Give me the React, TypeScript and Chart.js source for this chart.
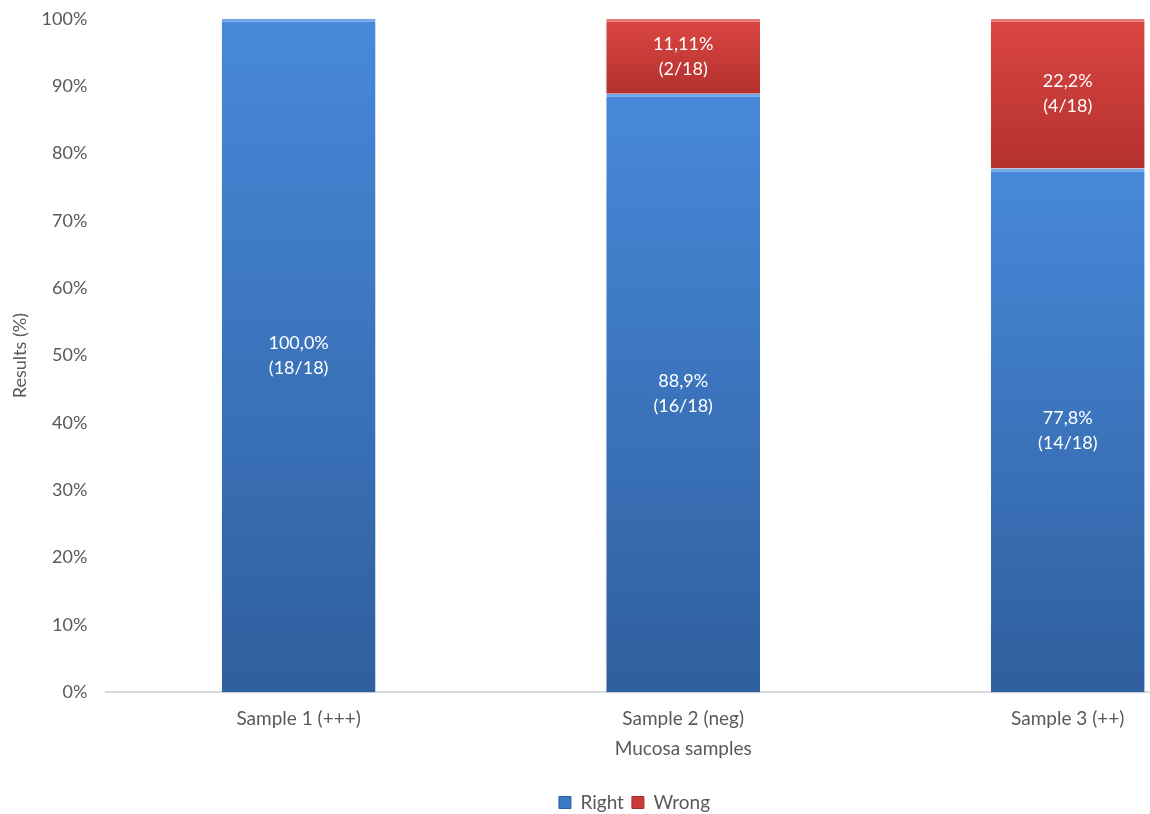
import React, { useEffect, useRef } from "react";
import { Chart, registerables } from "chart.js";

Chart.register(...registerables);

const categories = ["Sample 1 (+++)", "Sample 2 (neg)", "Sample 3 (++)"];
const rightValues = [100, 88.89, 77.78];
const wrongValues = [0, 11.11, 22.22];
const rightLabels = ["100,0%", "88,9%", "77,8%"];
const rightCounts = ["(18/18)", "(16/18)", "(14/18)"];
const wrongLabels = ["", "11,11%", "22,2%"];
const wrongCounts = ["", "(2/18)", "(4/18)"];
const yTicks = [0, 10, 20, 30, 40, 50, 60, 70, 80, 90, 100];

const FONT = "Lato, 'Open Sans', sans-serif";
const TEXT = "#595959";

function segGradient(ctx: any, top: string, bottom: string, below: number[][]) {
  const chart = ctx.chart;
  const y = chart.scales && chart.scales.y;
  if (ctx.dataIndex === undefined || !y || !chart.chartArea) return top;
  const i = ctx.dataIndex;
  const ds = ctx.datasetIndex;
  let start = 0;
  for (let k = 0; k < ds; k++) start += below[k][i];
  const end = start + (ds === 0 ? rightValues[i] : wrongValues[i]);
  const yTop = y.getPixelForValue(end);
  const yBot = y.getPixelForValue(start);
  if (!isFinite(yTop) || !isFinite(yBot) || yTop === yBot) return top;
  const g = chart.ctx.createLinearGradient(0, yTop, 0, yBot);
  g.addColorStop(0, top);
  g.addColorStop(1, bottom);
  return g;
}

const labelPlugin = {
  id: "segLabels",
  afterDatasetsDraw(chart: any) {
    const c = chart.ctx;
    c.save();
    c.fillStyle = "#ffffff";
    c.font = `18px ${FONT}`;
    c.textAlign = "center";
    c.textBaseline = "middle";
    const sets = [
      [rightLabels, rightCounts],
      [wrongLabels, wrongCounts],
    ];
    chart.data.datasets.forEach((d: any, di: number) => {
      const meta = chart.getDatasetMeta(di);
      meta.data.forEach((el: any, i: number) => {
        if (!d.data[i]) return;
        const cy = (el.y + el.base) / 2;
        c.fillText(sets[di][0][i], el.x, cy - 12);
        c.fillText(sets[di][1][i], el.x, cy + 13);
      });
    });
    c.restore();
  },
};

export default function App() {
  const ref = useRef<HTMLCanvasElement>(null);
  useEffect(() => {
    document.body.style.margin = "0";
    const below = [rightValues, wrongValues];
    const chart = new Chart(ref.current!, {
      type: "bar",
      data: {
        labels: categories,
        datasets: [
          {
            label: "Right",
            data: rightValues,
            backgroundColor: (ctx: any) => segGradient(ctx, "#4889da", "#2f5f9e", below),
            borderColor: "#6fa8ea",
            borderWidth: { top: 3, left: 0, right: 0, bottom: 0 },
            borderSkipped: false,
            categoryPercentage: 1,
            barPercentage: 0.4,
          },
          {
            label: "Wrong",
            data: wrongValues,
            backgroundColor: (ctx: any) => segGradient(ctx, "#dc4743", "#b3302e", below),
            borderColor: "#ea7a76",
            borderWidth: { top: 3, left: 0, right: 0, bottom: 0 },
            borderSkipped: false,
            categoryPercentage: 1,
            barPercentage: 0.4,
          },
        ],
      },
      options: {
        animation: false,
        responsive: true,
        maintainAspectRatio: false,
        layout: { padding: { top: -5, left: 9, right: 12, bottom: -8 } },
        scales: {
          x: {
            stacked: true,
            grid: { display: false },
            border: { display: true, color: "#d9d9d9", width: 2 },
            ticks: { color: TEXT, font: { family: FONT, size: 19 }, padding: 7 },
            title: {
              display: true,
              text: "Mucosa samples",
              color: TEXT,
              font: { family: FONT, size: 19 },
              padding: { top: 0, bottom: 25 },
            },
          },
          y: {
            stacked: true,
            min: 0,
            max: 100,
            afterBuildTicks: (scale: any) => {
              scale.ticks = yTicks.map((v) => ({ value: v }));
            },
            grid: { display: false },
            border: { display: false },
            ticks: {
              color: TEXT,
              font: { family: FONT, size: 18 },
              padding: 11,
              callback: (v: any) => `${v}%`,
            },
            title: {
              display: true,
              text: "Results (%)",
              color: TEXT,
              font: { family: FONT, size: 18 },
              padding: { top: 0, bottom: 0 },
            },
          },
        },
        plugins: {
          legend: {
            position: "bottom",
            labels: {
              color: TEXT,
              font: { family: FONT, size: 19 },
              boxWidth: 12,
              boxHeight: 12,
              padding: 8,
              generateLabels: () => [
                { text: "Right", fillStyle: "#3d78c4", strokeStyle: "#2f5f9e", lineWidth: 1, datasetIndex: 0, fontColor: TEXT },
                { text: "Wrong", fillStyle: "#cc3b38", strokeStyle: "#a82e2c", lineWidth: 1, datasetIndex: 1, fontColor: TEXT },
              ] as any,
            },
          },
          tooltip: { enabled: false },
        },
      },
      plugins: [labelPlugin],
    });
    return () => chart.destroy();
  }, []);
  return (
    <div style={{ width: 1150, height: 814, overflow: "hidden" }}>
      <div style={{ width: 1272, height: 817, position: "relative", top: -3 }}>
        <canvas ref={ref} />
      </div>
    </div>
  );
}
